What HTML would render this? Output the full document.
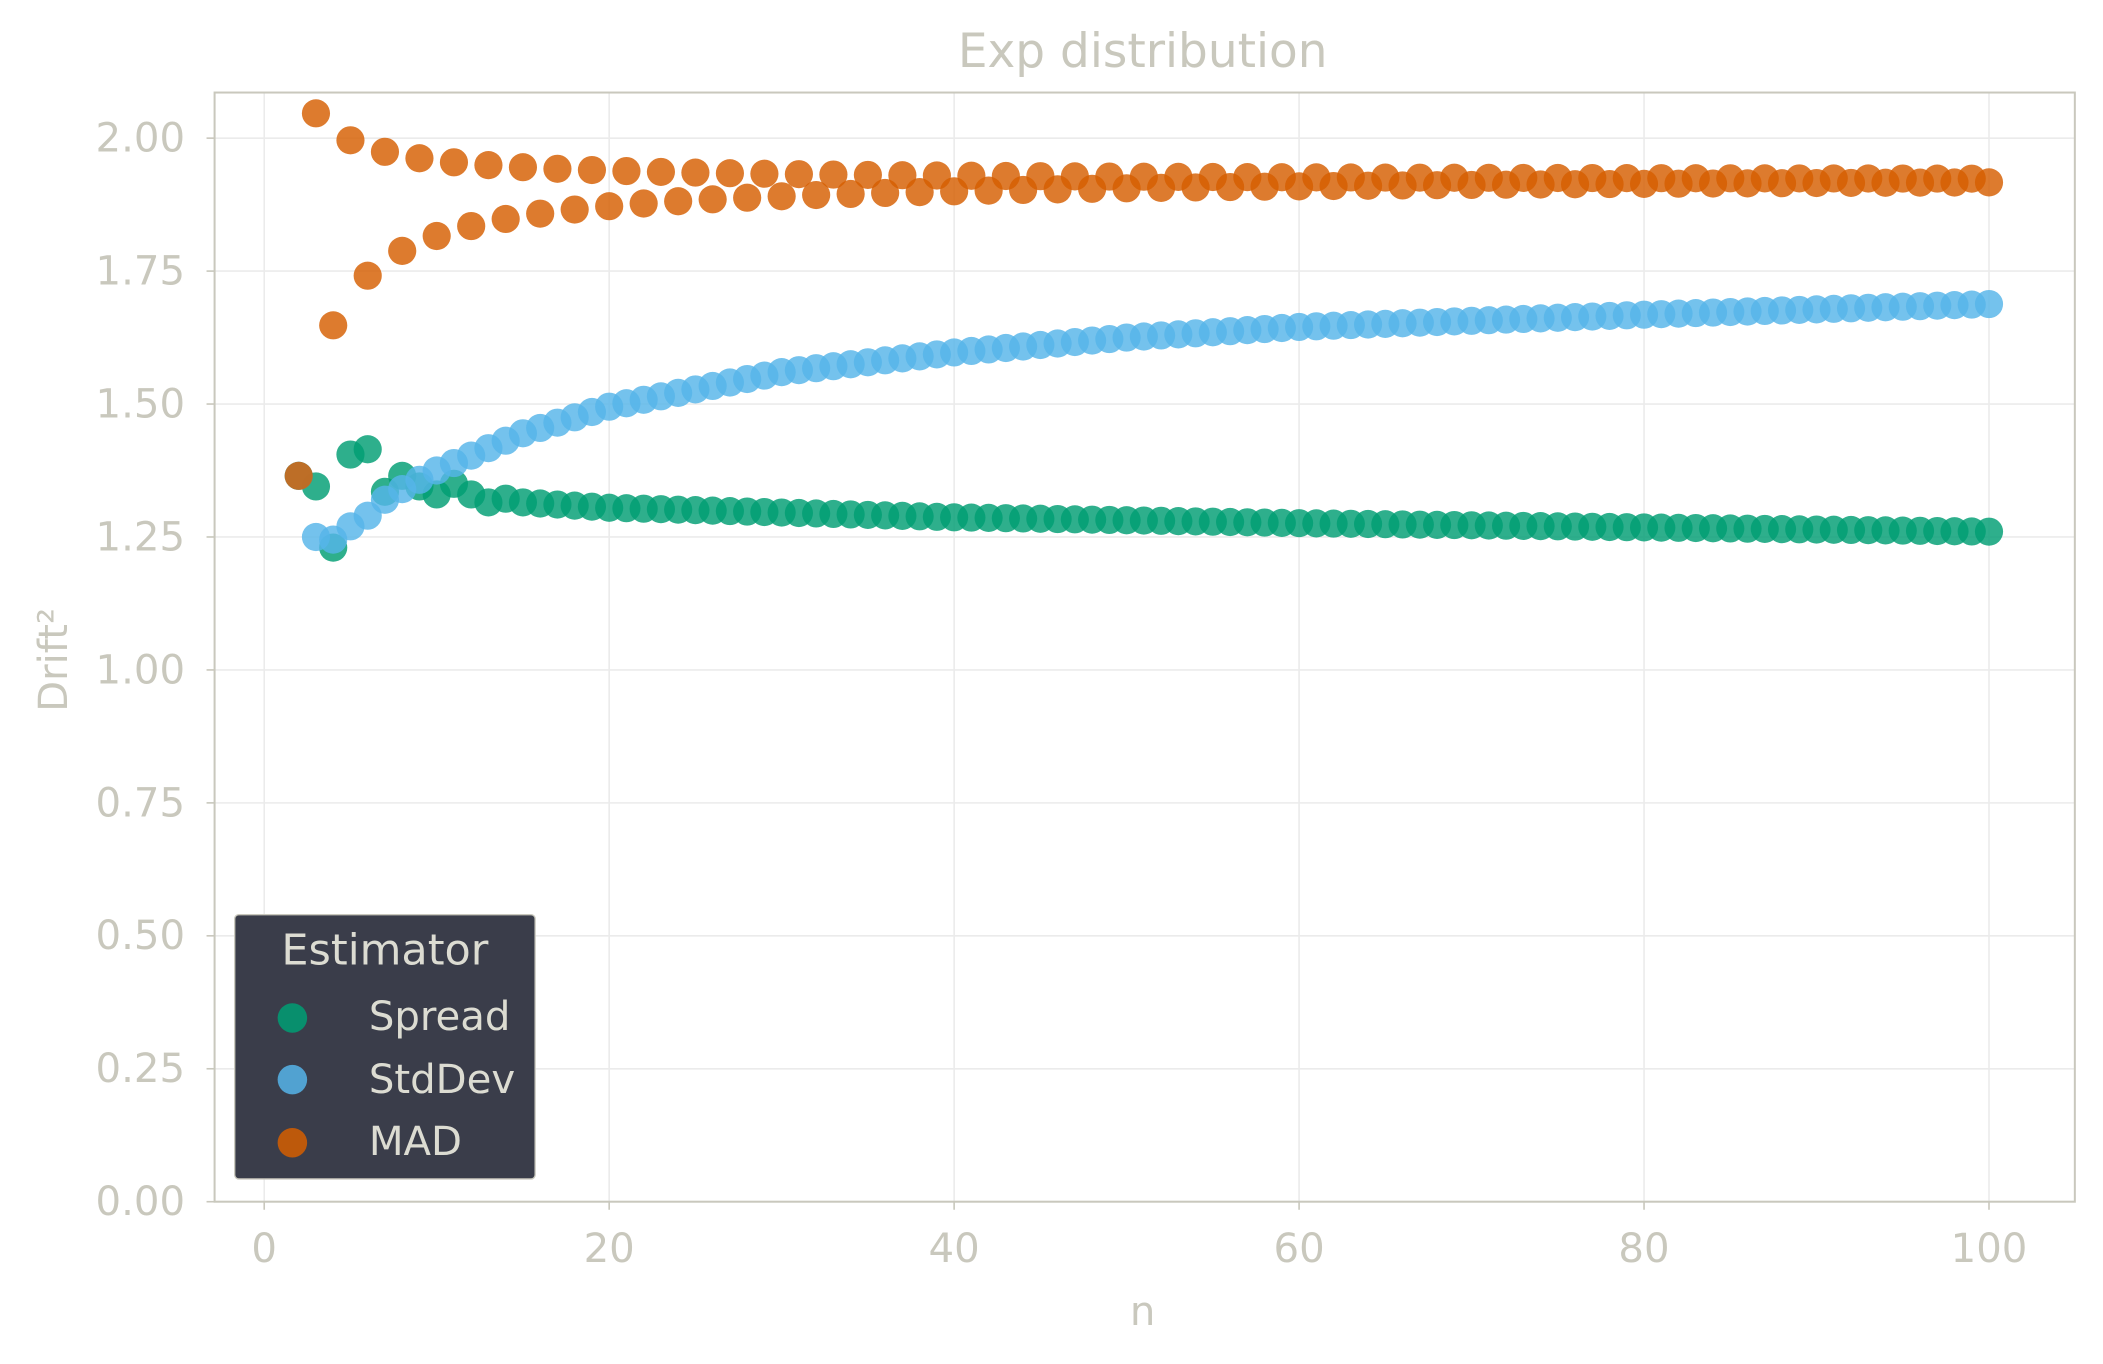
<!DOCTYPE html>
<html><head><meta charset="utf-8"><style>
html,body{margin:0;padding:0;background:#fff;}
svg{display:block;}
text{font-family:"DejaVu Sans","Liberation Sans",sans-serif;fill:#c9c8bd;}
</style></head><body>
<svg id="s" width="2103" height="1364" viewBox="0 0 1568 1017" preserveAspectRatio="none" xmlns="http://www.w3.org/2000/svg">
<rect width="1568" height="1017" fill="#fff"/>
<g id="grid" stroke="#ebebeb" stroke-width="1.2"></g>
<rect x="160" y="69" width="1387" height="827" fill="none" stroke="#c9c8bd" stroke-width="1.5"/>
<g id="ticks"></g>
<g id="pts"></g>
<text x="852" y="50" font-size="35" text-anchor="middle">Exp distribution</text>
<text x="852" y="988" font-size="30" text-anchor="middle">n</text>
<text transform="translate(50,492) rotate(-90)" font-size="30" text-anchor="middle">Drift²</text>
<rect x="175" y="682" width="224" height="197" rx="3" fill="#3a3d4a" stroke="#c9c8bd" stroke-width="1"/>
<text x="287" y="719" font-size="32" text-anchor="middle" style="fill:#dcdcd2">Estimator</text>
<circle cx="218" cy="759" r="11" fill="#009E73" fill-opacity="0.85"/>
<text x="275" y="768" font-size="30" style="fill:#dcdcd2">Spread</text>
<circle cx="218" cy="805" r="11" fill="#56B4E9" fill-opacity="0.85"/>
<text x="275" y="815" font-size="30" style="fill:#dcdcd2">StdDev</text>
<circle cx="218" cy="852" r="11" fill="#D55E00" fill-opacity="0.85"/>
<text x="275" y="861" font-size="30" style="fill:#dcdcd2">MAD</text>
</svg>
<script>
const X=n=>197+n*12.86, Y=v=>896-v*396.5;
const ns="http://www.w3.org/2000/svg";
const g=document.getElementById('grid'),t=document.getElementById('ticks'),p=document.getElementById('pts');
function el(par,tag,a,txt){const e=document.createElementNS(ns,tag);for(const k in a)e.setAttribute(k,a[k]);if(txt!==undefined)e.textContent=txt;par.appendChild(e);return e;}
for(let i=0;i<=100;i+=20){const x=X(i);el(g,'line',{x1:x,x2:x,y1:69,y2:896});el(t,'line',{x1:x,x2:x,y1:896,y2:902,stroke:'#c9c8bd','stroke-width':1.2});el(t,'text',{x:x,y:941,'font-size':30,'text-anchor':'middle'},i);}
for(let j=0;j<=8;j++){const v=j*0.25,y=Y(v);el(g,'line',{x1:160,x2:1547,y1:y,y2:y});el(t,'line',{x1:154,x2:160,y1:y,y2:y,stroke:'#c9c8bd','stroke-width':1.2});el(t,'text',{x:138,y:y+10,'font-size':30,'text-anchor':'end'},v.toFixed(2));}
function interp(tab,n){for(let i=0;i<tab.length-1;i++){if(n>=tab[i][0]&&n<=tab[i+1][0]){const [a,va]=tab[i],[b,vb]=tab[i+1];return va+(vb-va)*(n-a)/(b-a);}}return tab[tab.length-1][1];}
const sp={2:1.365,3:1.345,4:1.23,5:1.405,6:1.415,7:1.335,8:1.365,9:1.345,10:1.33,11:1.35,12:1.33,13:1.315,14:1.322,15:1.315};
const spT=[[15,1.315],[20,1.305],[40,1.287],[60,1.276],[100,1.26]];
const sdT=[[2,1.365],[3,1.25],[4,1.245],[5,1.27],[6,1.29],[7,1.32],[8,1.34],[10,1.375],[15,1.445],[20,1.495],[30,1.56],[40,1.597],[50,1.625],[60,1.645],[80,1.668],[100,1.688]];
function dot(n,v,c){el(p,'circle',{cx:X(n),cy:Y(v),r:10.5,fill:c,'fill-opacity':0.82});}
for(let n=2;n<=100;n++)dot(n,sp[n]!==undefined?sp[n]:interp(spT,n),'#009E73');
for(let n=2;n<=100;n++)dot(n,interp(sdT,n),'#56B4E9');
for(let n=2;n<=100;n++){let v;if(n==2)v=1.365;else if(n%2)v=1.92+0.38/n;else v=1.928-1.12/n;dot(n,v,'#D55E00');}
</script>
</body></html>
